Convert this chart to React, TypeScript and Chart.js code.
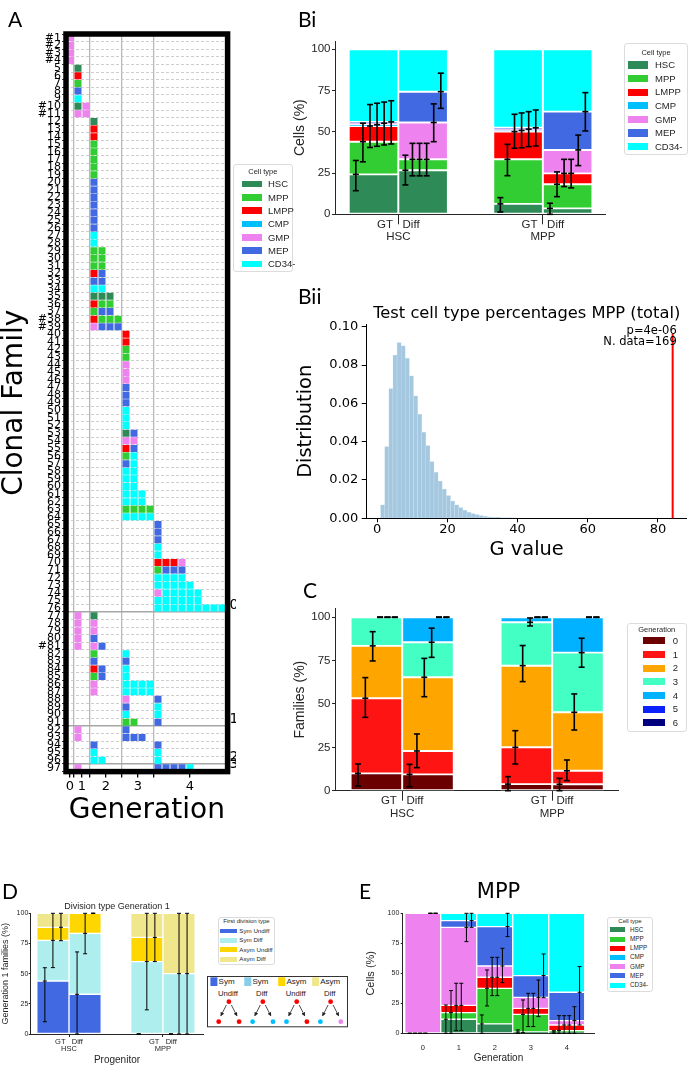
import React, { useEffect, useRef } from 'react';
import { Chart, registerables } from 'chart.js';

Chart.register(...registerables);

const SANS = "'Liberation Sans', Arial, sans-serif";
const DEJAVU = "'DejaVu Sans', sans-serif";
const INK = '#262626';

// ---------------- shared categories ----------------
const cellTypes = ['HSC', 'MPP', 'LMPP', 'CMP', 'GMP', 'MEP', 'CD34-'];
const cellCodes = ['H', 'M', 'L', 'C', 'G', 'E', 'N'];
const cellColors = ['#2e8b57', '#32cd32', '#ff0000', '#00bfff', '#ee82ee', '#4169e1', '#00ffff'];
const progenitors = ['HSC', 'MPP'];
const conditionLabel = 'GT   Diff';

// ---------------- Panel A: clonal families (gen0|gen1|gen2|gen3|gen4) ----------------
const genLabels = ['0', '1', '2', '3', '4'];
const genSlotStart = [0, 1, 3, 7, 11];
const genTickPos = [0.5, 2, 5, 9, 15.5];
const genBoundaries = [1, 3, 7, 11];
const familyCells = [
  'G||||', 'G||||', 'G||||', 'G||||', '|H|||', '|L|||', '|M|||', '|E|||', '|N|||', '|HG|||',
  '|GG|||', '||H||', '||L||', '||L||', '||M||', '||M||', '||M||', '||M||', '||M||', '||E||',
  '||E||', '||E||', '||E||', '||E||', '||E||', '||E||', '||N||', '||N||', '||MM||', '||MM||',
  '||MM||', '||LE||', '||EE||', '||NN||', '||HHH||', '||LMM||', '||MEE||', '||LMMM||', '||GEEE||', '|||L|',
  '|||L|', '|||M|', '|||M|', '|||G|', '|||G|', '|||G|', '|||E|', '|||E|', '|||E|', '|||N|',
  '|||N|', '|||N|', '|||HE|', '|||GG|', '|||LE|', '|||MN|', '|||EN|', '|||NN|', '|||NN|', '|||NN|',
  '|||NNN|', '|||NNN|', '|||MMMM|', '|||NNNN|', '||||E', '||||E', '||||E', '||||N', '||||N', '||||LLLG',
  '||||MEEE', '||||NNNN', '||||NNNNN', '||||GNNNNN', '||||NNNNNN', '||||NNNNNNNNN', '|G|H||', '|G|G||', '|G|G||', '|G|E||',
  '|G|GE||', '||M|N|', '||E|E|', '||LE|N|', '||ME|N|', '||G|NNNN|', '||G|NNNN|', '|||G|E', '|||E|N', '|||N|N',
  '|||MM|E', '|G||E|', '|G||EEE|', '||E||E', '||N||N', '||NN||N', '|G|||EEEEN',
];
const markedFamilies = [1, 2, 3, 4, 10, 11, 38, 39, 81];
const groupEnds = [76.5, 91.5, 96.5, 97.5];
const groupLabels = ['0', '1', '2', '3'];

// ---------------- Panel Bi: cell type % (HSC-GT, HSC-Diff, MPP-GT, MPP-Diff) ----------------
const biHSC = [24.2, 26.7, 6.3, 3.6];
const biMPP = [19.8, 6.6, 27.0, 14.6];
const biLMPP = [9.5, 0, 16.8, 6.6];
const biCMP = [0.8, 0, 0.7, 0];
const biGMP = [0.9, 22.3, 0.8, 14.2];
const biMEP = [0.8, 18.7, 0.8, 23.2];
const biCD34 = [44.0, 25.7, 47.6, 37.8];
const biErrLow = [
  [14.3, 31.8, 40.5, 41.2, 42.0, 42.6],
  [17.8, 23.3, 23.3, 23.3, 44.0, 64.2],
  [1.4, 23.4, 40.0, 40.3, 41.0, 41.4],
  [0, 10.7, 16.8, 16.0, 29.5, 50.5],
];
const biErrHigh = [
  [32.6, 55.2, 66.5, 67.3, 68.0, 68.8],
  [35.8, 43.0, 43.0, 43.0, 66.9, 85.5],
  [10.1, 42.4, 60.6, 61.4, 62.2, 63.2],
  [6.7, 25.7, 33.3, 33.3, 48.0, 73.7],
];

// ---------------- Panel Bii: G-value null distribution ----------------
const gBinStart = 0.96;
const gBinWidth = 1.172;
const gDensity = [
  0.0070, 0.0374, 0.0678, 0.0852, 0.0918, 0.0901, 0.0835, 0.0744, 0.0640, 0.0543,
  0.0449, 0.0380, 0.0296, 0.0240, 0.0195, 0.0153, 0.0118, 0.0090, 0.0070, 0.0056,
  0.0042, 0.0031, 0.0024, 0.0019, 0.0014, 0.0010, 0.0008, 0.0006, 0.0005, 0.0003,
  0.0002, 0.0002, 0.0001,
];
const gObserved = 84.2;
const gObservedTop = 0.0965;
const gPValue = 'p=4e-06';
const gNData = 'N. data=169';

// ---------------- Panel C: generation of families ----------------
const genNames = ['0', '1', '2', '3', '4', '5', '6'];
const genColors = ['#6a0000', '#ff1414', '#ffa500', '#44ffc4', '#00b2ff', '#0a22ff', '#00007e'];
const cGen0 = [10.0, 9.4, 3.8, 3.7];
const cGen1 = [43.3, 13.5, 21.2, 7.8];
const cGen2 = [30.2, 42.5, 47.1, 33.7];
const cGen3 = [16.5, 20.2, 25.0, 34.4];
const cGen4 = [0, 14.4, 2.9, 20.4];
const cGen5 = [0, 0, 0, 0];
const cGen6 = [0, 0, 0, 0];
const cErrLow = [
  [2.7, 42.3, 74.8, 100, 100, 100],
  [2.3, 13.3, 54.2, 76.9, 100, 100],
  [0, 15.4, 62.9, 95.0, 100, 100],
  [0, 5.8, 35.0, 71.2, 100, 100],
];
const cErrHigh = [
  [15.4, 65.2, 91.7, 100, 100, 100],
  [15.2, 32.7, 76.3, 93.7, 100, 100],
  [8.1, 34.6, 83.7, 99.6, 100, 100],
  [7.1, 17.7, 55.8, 87.9, 100, 100],
];

// ---------------- Panel D: first division type ----------------
const divTypes = ['Sym Undiff', 'Sym Diff', 'Asym Undiff', 'Asym Diff'];
const divColors = ['#4169e1', '#afeeee', '#ffd700', '#f0e68c'];
const dSymUndiff = [43.9, 32.9, 0, 0];
const dSymDiff = [33.7, 50.5, 60, 50];
const dAsymUndiff = [10.8, 16.6, 20, 0];
const dAsymDiff = [11.6, 0, 20, 50];
const dErrLow = [
  [10.2, 55.0, 77.3],
  [0, 66.5, 100],
  [0, 20, 60],
  [0, 0, 0],
];
const dErrHigh = [
  [54.9, 100, 100],
  [68.0, 100, 100],
  [0, 100, 100],
  [0, 100, 100],
];
const schemeSquares = ['#4169e1', '#87ceeb', '#ffd700', '#f0e68c'];
const schemeWords = [['Sym', 'Undiff'], ['Sym', 'Diff'], ['Asym', 'Undiff'], ['Asym', 'Diff']];
const schemeKids = [['#ff0000', '#ff0000'], ['#00bfff', '#00bfff'], ['#00bfff', '#ff0000'], ['#00bfff', '#ee82ee']];

// ---------------- Panel E: MPP cell types by generation ----------------
const eHSC = [0, 11.7, 7.8, 1.1, 1.1];
const eMPP = [0, 5.5, 29.7, 14.7, 1.1];
const eLMPP = [0, 6.1, 9.2, 5.0, 4.7];
const eCMP = [0, 0, 0, 0, 0];
const eGMP = [100, 65.0, 9.4, 9.2, 3.7];
const eMEP = [0, 5.6, 32.8, 18.1, 23.6];
const eCD34 = [0, 6.1, 11.1, 51.9, 65.8];
const eErrLow = [
  [0, 0, 0, 0, 100, 100],
  [0, 0, 2.2, 2.2, 76.4, 88.3],
  [0, 22.8, 31.4, 31.4, 42.2, 80.6],
  [0, 0.5, 5.6, 5.6, 13.9, 29.7],
  [0, 0, 0, 0, 0, 6.9],
];
const eErrHigh = [
  [0, 0, 0, 0, 100, 100],
  [23.6, 35.6, 41.7, 41.7, 100, 100],
  [15.3, 52.8, 63.3, 63.3, 70.8, 100],
  [2.8, 27.8, 33.3, 33.3, 44.4, 66.1],
  [2.2, 14.7, 14.7, 14.7, 22.2, 55.6],
];

// ---------------- helpers ----------------
const fixW = (w: number) => (s: any) => { s.width = w; };
const fixH = (h: number) => (s: any) => { s.height = h; };
const tickAt = (vals: number[]) => (s: any) => { s.ticks = vals.map((v) => ({ value: v })); };

function cumulative(series: number[][], nBars: number): number[][] {
  const out: number[][] = [];
  for (let b = 0; b < nBars; b++) {
    let acc = 0;
    out.push(series.slice(0, series.length - 1).map((s) => (acc += s[b])));
  }
  return out;
}

function errorBarData(xs: number[], width: number, mids: number[][], lo: number[][], hi: number[][]) {
  const pts: any[] = [];
  xs.forEach((xc, b) => {
    const n = mids[b].length + 1;
    mids[b].forEach((m, k) => {
      const x = xc - width / 2 + ((k + 1) * width) / n;
      pts.push({ x, y: lo[b][k] }, { x, y: m }, { x, y: hi[b][k] }, { x, y: null });
    });
  });
  return pts;
}

function stackedBars(series: number[][], colors: string[], labels: string[], xs: number[], bw: number) {
  return series.map((s, i) => ({
    type: 'bar',
    label: labels[i],
    data: s.map((v, b) => ({ x: xs[b], y: v })),
    backgroundColor: colors[i],
    borderColor: '#ffffff',
    borderWidth: bw,
    borderSkipped: false,
    categoryPercentage: 1,
    barPercentage: 1,
    xAxisID: 'x',
    yAxisID: 'y',
  }));
}

function errorDataset(pts: any[], lw: number, cap: number) {
  return {
    type: 'line',
    label: 'CI',
    data: pts,
    xAxisID: 'x',
    yAxisID: 'yE',
    borderColor: '#000',
    borderWidth: lw,
    pointStyle: 'line',
    pointRadius: cap,
    pointHoverRadius: cap,
    pointBorderColor: '#000',
    pointBorderWidth: lw,
    pointBackgroundColor: '#000',
    fill: false,
    spanGaps: false,
    clip: false,
    order: -1,
    tension: 0,
  };
}

function stackChart(o: any) {
  return {
    type: 'bar',
    data: { datasets: o.datasets },
    options: {
      responsive: false,
      animation: false,
      devicePixelRatio: 1,
      events: [],
      layout: { padding: { left: 0, top: o.padTop, right: o.padRight, bottom: 0 }, autoPadding: false },
      plugins: {
        legend: { display: false },
        tooltip: { enabled: false },
        title: o.title
          ? {
              display: true,
              text: o.title.text,
              fullSize: false,
              color: o.title.color || INK,
              font: { family: o.title.family, size: o.title.size, lineHeight: 1.2, weight: 'normal' },
              padding: { top: o.title.top, bottom: o.title.bottom },
            }
          : { display: false },
      },
      scales: {
        x: {
          type: 'linear',
          min: o.xMin,
          max: o.xMax,
          offset: false,
          stacked: true,
          afterBuildTicks: tickAt(o.xTicks),
          afterFit: fixH(o.xHeight),
          ticks: {
            autoSkip: false,
            minRotation: 0,
            maxRotation: 0,
            color: INK,
            padding: o.xPad,
            font: { family: SANS, size: o.xFont, lineHeight: o.xLineHeight },
            callback: (_v: any, i: number) => o.xLabels[i],
          },
          grid: {
            display: true,
            offset: false,
            drawOnChartArea: false,
            drawTicks: o.xTickLen > 0,
            tickLength: o.xTickLen,
            tickColor: INK,
            tickWidth: 1,
          },
          border: { display: true, color: INK, width: 1 },
          title: o.xTitle
            ? {
                display: true,
                text: o.xTitle,
                color: INK,
                font: { family: SANS, size: o.xTitleSize, lineHeight: 1 },
                padding: { top: 0, bottom: o.xTitlePad },
              }
            : { display: false },
        },
        y: {
          type: 'linear',
          min: 0,
          max: o.yMax,
          stacked: true,
          afterBuildTicks: tickAt([0, 25, 50, 75, 100]),
          afterFit: fixW(o.yWidth),
          ticks: { color: INK, padding: o.yPad, font: { family: SANS, size: o.yFont } },
          grid: { display: true, drawOnChartArea: false, tickLength: o.yTickLen, tickColor: INK },
          border: { display: true, color: INK, width: 1 },
          title: {
            display: true,
            text: o.yTitle,
            color: INK,
            font: { family: SANS, size: o.yTitleSize, lineHeight: 1 },
            padding: { top: o.yTitlePad, bottom: 0 },
          },
        },
        yE: { type: 'linear', min: 0, max: o.yMax, display: false, stacked: false },
      },
    },
  };
}

const framePlugin = {
  id: 'frame',
  afterDraw(chart: any, _a: any, opts: any) {
    const { ctx, chartArea } = chart;
    ctx.save();
    ctx.strokeStyle = opts.color || '#000';
    ctx.lineWidth = opts.width || 1;
    ctx.strokeRect(chartArea.left, chartArea.top, chartArea.right - chartArea.left, chartArea.bottom - chartArea.top);
    ctx.restore();
  },
};

const notePlugin = {
  id: 'note',
  afterDatasetsDraw(chart: any, _a: any, opts: any) {
    const { ctx, chartArea } = chart;
    ctx.save();
    ctx.font = opts.font;
    ctx.fillStyle = '#000';
    ctx.textAlign = 'right';
    ctx.textBaseline = 'middle';
    (opts.lines || []).forEach((t: string, i: number) => {
      ctx.fillText(t, chartArea.right - opts.dx, chartArea.top + opts.dy + i * opts.gap);
    });
    ctx.restore();
  },
};

// ---------------- chart configs ----------------
function makePanelA() {
  const datasets = cellCodes.map((code, ci) => {
    const pts: { x: number; y: number }[] = [];
    familyCells.forEach((fam, fi) => {
      fam.split('|').forEach((cells, g) => {
        cells.split('').forEach((c, j) => {
          if (c === code) pts.push({ x: genSlotStart[g] + j + 0.5, y: fi + 1 });
        });
      });
    });
    return {
      label: cellTypes[ci],
      data: pts,
      backgroundColor: cellColors[ci],
      borderColor: cellColors[ci],
      borderWidth: 0,
      pointStyle: 'rect',
      pointRadius: 4.95,
      pointHoverRadius: 4.95,
    };
  });
  const familyIds = familyCells.map((_, i) => i + 1);
  const xTicks = [...genTickPos, ...genBoundaries].sort((a, b) => a - b);
  return {
    type: 'scatter',
    data: { datasets },
    plugins: [framePlugin],
    options: {
      responsive: false,
      animation: false,
      devicePixelRatio: 1,
      events: [],
      layout: { padding: { left: 0, top: 34, right: 0, bottom: 0 }, autoPadding: false },
      plugins: { legend: { display: false }, tooltip: { enabled: false }, frame: { width: 5.5, color: '#000' } },
      scales: {
        x: {
          type: 'linear',
          position: 'bottom',
          min: 0,
          max: 20.2,
          afterBuildTicks: tickAt(xTicks),
          afterFit: fixH(78.4),
          ticks: {
            autoSkip: false,
            minRotation: 0,
            maxRotation: 0,
            color: '#000',
            padding: 1,
            font: { family: DEJAVU, size: 13 },
            callback: (v: number) => {
              const i = genTickPos.indexOf(v);
              return i >= 0 ? genLabels[i] : '';
            },
          },
          grid: {
            color: (ctx: any) => (ctx.tick && genBoundaries.includes(ctx.tick.value) ? '#b8b8b8' : 'rgba(0,0,0,0)'),
            lineWidth: 1.3,
            tickColor: '#000',
            tickLength: 6,
          },
          border: { display: false },
          title: {
            display: true,
            text: 'Generation',
            color: '#000',
            font: { family: DEJAVU, size: 28, lineHeight: 1 },
            padding: { top: 0, bottom: 25 },
          },
        },
        y: {
          type: 'linear',
          position: 'left',
          min: 0.5,
          max: 97.5,
          reverse: true,
          afterBuildTicks: tickAt(familyIds),
          afterFit: fixW(66),
          ticks: {
            autoSkip: false,
            color: '#000',
            padding: 1,
            font: { family: DEJAVU, size: 11 },
            callback: (v: number) => (markedFamilies.includes(v) ? '#' : '') + v,
          },
          grid: { offset: true, color: '#c2c2c2', lineWidth: 0.8, tickColor: '#000', tickLength: 4 },
          border: { display: false, dash: [3, 2] },
          title: {
            display: true,
            text: 'Clonal Family',
            color: '#000',
            font: { family: DEJAVU, size: 28, lineHeight: 1 },
            padding: { top: 1, bottom: 0 },
          },
        },
        yR: {
          type: 'linear',
          position: 'right',
          min: 0.5,
          max: 97.5,
          reverse: true,
          afterBuildTicks: tickAt(groupEnds),
          afterFit: fixW(8.4),
          ticks: {
            autoSkip: false,
            color: '#000',
            padding: 2,
            labelOffset: -7,
            font: { family: DEJAVU, size: 14 },
            callback: (_v: any, i: number) => groupLabels[i],
          },
          grid: { color: '#a6a6a6', lineWidth: 1.5, drawTicks: false },
          border: { display: false },
        },
      },
    },
  };
}

const pairX = (w: number) => [0, 1].flatMap((g) => [g - w / 2, g + w / 2]);
const twoLineLabels = progenitors.map((p) => [conditionLabel, p]);

function makePanelBi() {
  const w = 0.343;
  const xs = pairX(w);
  const series = [biHSC, biMPP, biLMPP, biCMP, biGMP, biMEP, biCD34];
  const mids = cumulative(series, 4);
  return stackChart({
    datasets: [
      errorDataset(errorBarData(xs, w, mids, biErrLow, biErrHigh), 1.6, 3),
      ...stackedBars(series, cellColors, cellTypes, xs, 1.3),
    ],
    padTop: 11, padRight: 84,
    xMin: -0.438, xMax: 1.43, xTicks: [0, 1], xLabels: twoLineLabels, xHeight: 30.7,
    xFont: 11.5, xLineHeight: 1.1, xTickLen: 10, xPad: -6,
    yMax: 105, yWidth: 45, yFont: 11.5, yTickLen: 3, yPad: 1.5,
    yTitle: 'Cells (%)', yTitleSize: 14, yTitlePad: 3,
  });
}

function makePanelC() {
  const w = 0.344;
  const xs = pairX(w);
  const series = [cGen0, cGen1, cGen2, cGen3, cGen4, cGen5, cGen6];
  const mids = cumulative(series, 4);
  return stackChart({
    datasets: [
      errorDataset(errorBarData(xs, w, mids, cErrLow, cErrHigh), 1.6, 3),
      ...stackedBars(series, genColors, genNames, xs, 1.3),
    ],
    padTop: 13.6, padRight: 71,
    xMin: -0.448, xMax: 1.439, xTicks: [0, 1], xLabels: twoLineLabels, xHeight: 29.3,
    xFont: 11.5, xLineHeight: 1.1, xTickLen: 10, xPad: -6,
    yMax: 105, yWidth: 45, yFont: 11.5, yTickLen: 3, yPad: 1.5,
    yTitle: 'Families (%)', yTitleSize: 14, yTitlePad: 3,
  });
}

function makePanelD() {
  const w = 0.343;
  const xs = pairX(w);
  const series = [dSymUndiff, dSymDiff, dAsymUndiff, dAsymDiff];
  const mids = cumulative(series, 4);
  return stackChart({
    datasets: [
      errorDataset(errorBarData(xs, w, mids, dErrLow, dErrHigh), 1, 2),
      ...stackedBars(series, divColors, divTypes, xs, 1),
    ],
    padTop: 0, padRight: 6.7,
    title: { text: 'Division type Generation 1', family: SANS, size: 9, top: 6.3, bottom: 1.2 },
    xMin: -0.408, xMax: 1.43, xTicks: [0, 1], xLabels: twoLineLabels, xHeight: 42,
    xFont: 7.5, xLineHeight: 1.05, xTickLen: 3, xPad: 0.6,
    xTitle: 'Progenitor', xTitleSize: 10, xTitlePad: 10.3,
    yMax: 100, yWidth: 30.7, yFont: 7, yTickLen: 2, yPad: 0.4,
    yTitle: 'Generation 1 families (%)', yTitleSize: 9, yTitlePad: 1.5,
  });
}

function makePanelE() {
  const xs = [0, 1, 2, 3, 4];
  const series = [eHSC, eMPP, eLMPP, eCMP, eGMP, eMEP, eCD34];
  const mids = cumulative(series, 5);
  return stackChart({
    datasets: [
      errorDataset(errorBarData(xs, 1, mids, eErrLow, eErrHigh), 1, 2),
      ...stackedBars(series, cellColors, cellTypes, xs, 1),
    ],
    padTop: 0, padRight: 5.7,
    title: { text: 'MPP', family: DEJAVU, size: 21, top: 5.4, bottom: 7.7, color: '#000' },
    xMin: -0.556, xMax: 4.766, xTicks: xs, xLabels: genLabels, xHeight: 36.7,
    xFont: 7.5, xLineHeight: 1.1, xTickLen: 0, xPad: 10.9,
    xTitle: 'Generation', xTitleSize: 10, xTitlePad: 6.7,
    yMax: 100, yWidth: 42.7, yFont: 7, yTickLen: 2, yPad: 1.4,
    yTitle: 'Cells (%)', yTitleSize: 11, yTitlePad: 5.3,
  });
}

function makePanelBii() {
  const pts = gDensity.map((d, i) => ({ x: gBinStart + gBinWidth * (i + 0.5), y: d }));
  return {
    type: 'bar',
    data: {
      datasets: [
        {
          type: 'line',
          label: 'observed',
          data: [{ x: gObserved, y: 0 }, { x: gObserved, y: gObservedTop }],
          borderColor: '#ff0000',
          borderWidth: 2,
          pointRadius: 0,
          clip: false,
          order: -1,
        },
        {
          type: 'bar',
          label: 'G value distribution',
          data: pts,
          backgroundColor: '#a5c8e1',
          borderColor: '#cfe1ef',
          borderWidth: 0.5,
          borderSkipped: false,
          categoryPercentage: 1,
          barPercentage: 1,
        },
      ],
    },
    plugins: [notePlugin],
    options: {
      responsive: false,
      animation: false,
      devicePixelRatio: 1,
      events: [],
      layout: { padding: { left: 0, top: 0, right: 2.3, bottom: 0 }, autoPadding: false },
      plugins: {
        legend: { display: false },
        tooltip: { enabled: false },
        title: {
          display: true,
          text: 'Test cell type percentages MPP (total)',
          fullSize: false,
          color: '#000',
          font: { family: DEJAVU, size: 16.3, lineHeight: 1.2, weight: 'normal' },
          padding: { top: 23.5, bottom: 1.24 },
        },
        note: { lines: [gPValue, gNData], font: `11.5px ${DEJAVU}`, dx: 10, dy: 6.7, gap: 11.3 },
      },
      scales: {
        x: {
          type: 'linear',
          min: -3.0,
          max: 88.2,
          offset: false,
          afterBuildTicks: tickAt([0, 20, 40, 60, 80]),
          afterFit: fixH(46.7),
          ticks: { color: '#000', padding: 0.5, maxRotation: 0, font: { family: DEJAVU, size: 13, lineHeight: 1 } },
          grid: { offset: false, drawOnChartArea: false, tickLength: 4, tickColor: '#000' },
          border: { display: true, color: '#000', width: 1 },
          title: {
            display: true,
            text: 'G value',
            color: '#000',
            font: { family: DEJAVU, size: 19.4, lineHeight: 1 },
            padding: { top: 0, bottom: 5.3 },
          },
        },
        y: {
          type: 'linear',
          min: 0,
          max: 0.1013,
          afterBuildTicks: tickAt([0, 0.02, 0.04, 0.06, 0.08, 0.1]),
          afterFit: fixW(76.7),
          ticks: { color: '#000', padding: 3.4, font: { family: DEJAVU, size: 13 }, callback: (v: any) => Number(v).toFixed(2) },
          grid: { drawOnChartArea: false, tickLength: 5, tickColor: '#000' },
          border: { display: true, color: '#000', width: 1 },
          title: {
            display: true,
            text: 'Distribution',
            color: '#000',
            font: { family: DEJAVU, size: 19.4, lineHeight: 1 },
            padding: { top: 6.5, bottom: 0 },
          },
        },
      },
    },
  };
}

// ---------------- components ----------------
function ChartCanvas({ left, top, width, height, make }: any) {
  const ref = useRef<HTMLCanvasElement | null>(null);
  useEffect(() => {
    if (!ref.current) return;
    const chart = new Chart(ref.current, make());
    return () => chart.destroy();
  }, []);
  return (
    <canvas ref={ref} width={width} height={height} style={{ position: 'absolute', left, top, width, height }} />
  );
}

function HtmlLegend({ box, title, titleSize, titleY, labels, colors, swatchX, swatchW, swatchH, textX, rowY0, rowStep, fontSize }: any) {
  const [bl, bt, bw, bh] = box;
  const ox = bl + 1;
  const oy = bt + 1;
  return (
    <div
      style={{
        position: 'absolute', left: bl, top: bt, width: bw, height: bh, boxSizing: 'border-box',
        border: '1px solid #dcdcdc', borderRadius: 3, background: 'rgba(255,255,255,0.9)',
        fontFamily: SANS, color: INK,
      }}
    >
      <div style={{ position: 'absolute', left: -1, width: bw, top: titleY - oy - titleSize * 0.5, fontSize: titleSize, lineHeight: 1, textAlign: 'center', whiteSpace: 'nowrap' }}>
        {title}
      </div>
      {labels.map((l: string, i: number) => {
        const cy = rowY0 + i * rowStep - oy;
        return (
          <React.Fragment key={l}>
            <div style={{ position: 'absolute', left: swatchX - ox, top: cy - swatchH / 2, width: swatchW, height: swatchH, background: colors[i] }} />
            <div style={{ position: 'absolute', left: textX - ox, top: cy - fontSize * 0.5, fontSize, lineHeight: 1, whiteSpace: 'nowrap' }}>{l}</div>
          </React.Fragment>
        );
      })}
    </div>
  );
}

function DivisionScheme() {
  const x0 = 207.3, y0 = 976, w = 141, h = 51.3;
  return (
    <svg width={w} height={h} viewBox={`${x0} ${y0} ${w} ${h}`} style={{ position: 'absolute', left: x0, top: y0, overflow: 'visible' }}>
      <defs>
        <marker id="ah" markerWidth="4" markerHeight="4" refX="3.4" refY="2" orient="auto" markerUnits="userSpaceOnUse">
          <path d="M0,0 L4,2 L0,4 z" fill="#222" />
        </marker>
      </defs>
      <rect x={x0 + 0.5} y={y0 + 0.5} width={w - 1} height={h - 1} fill="#fff" stroke="#333" strokeWidth={1} />
      {schemeSquares.map((c, i) => {
        const sq = 210.7 + i * 33.9;
        const px = sq + 18.5;
        return (
          <g key={i}>
            <rect x={sq} y={977.3} width={7} height={8.7} fill={c} />
            <text x={sq + 8.2} y={981.9} fontSize={8} fontFamily={SANS} fill="#222" dominantBaseline="central">{schemeWords[i][0]}</text>
            <text x={px - 1} y={993.3} fontSize={7.7} fontFamily={SANS} fill="#222" textAnchor="middle" dominantBaseline="central">{schemeWords[i][1]}</text>
            <circle cx={px} cy={1001.7} r={2.4} fill="#ff0000" />
            <line x1={px - 2.5} y1={1005} x2={px - 8} y2={1015.8} stroke="#222" strokeWidth={0.8} markerEnd="url(#ah)" />
            <line x1={px + 2.5} y1={1005} x2={px + 8} y2={1015.8} stroke="#222" strokeWidth={0.8} markerEnd="url(#ah)" />
            <circle cx={px - 10.2} cy={1021.7} r={2.4} fill={schemeKids[i][0]} />
            <circle cx={px + 10.2} cy={1021.7} r={2.4} fill={schemeKids[i][1]} />
          </g>
        );
      })}
    </svg>
  );
}

const panelLetters = [
  { text: 'A', left: 8, top: 8 },
  { text: 'Bi', left: 298, top: 8 },
  { text: 'Bii', left: 298, top: 284.5 },
  { text: 'C', left: 303, top: 578.5 },
  { text: 'D', left: 2, top: 879.5 },
  { text: 'E', left: 359, top: 879.5 },
];

export default function App() {
  return (
    <div style={{ position: 'absolute', left: 0, top: 0, width: 689, height: 1076, background: '#fff', overflow: 'hidden' }}>
      <ChartCanvas left={0} top={0} width={236} height={850} make={makePanelA} />
      <ChartCanvas left={290} top={30} width={399} height={215} make={makePanelBi} />
      <ChartCanvas left={290} top={280} width={399} height={285} make={makePanelBii} />
      <ChartCanvas left={290} top={595} width={399} height={225} make={makePanelC} />
      <ChartCanvas left={0} top={895} width={210} height={181} make={makePanelD} />
      <ChartCanvas left={360} top={875} width={240} height={195} make={makePanelE} />

      <HtmlLegend box={[232.7, 164, 60.3, 108]} title="Cell type" titleSize={7.5} titleY={171.7}
        labels={cellTypes} colors={cellColors} swatchX={241.7} swatchW={20} swatchH={6.5} textX={268}
        rowY0={184} rowStep={13.33} fontSize={9.5} />
      <HtmlLegend box={[624, 42.7, 64, 112.3]} title="Cell type" titleSize={7.5} titleY={52.3}
        labels={cellTypes} colors={cellColors} swatchX={627.7} swatchW={20.6} swatchH={7.3} textX={655}
        rowY0={65} rowStep={13.62} fontSize={9.5} />
      <HtmlLegend box={[626.7, 623.3, 60, 108.4]} title="Generation" titleSize={7.5} titleY={629.3}
        labels={genNames} colors={genColors} swatchX={643.3} swatchW={22} swatchH={7} textX={672.7}
        rowY0={640.7} rowStep={13.67} fontSize={9.5} />
      <HtmlLegend box={[218, 916.7, 57, 48.3]} title="First division type" titleSize={6} titleY={921.3}
        labels={divTypes} colors={divColors} swatchX={220} swatchW={16.7} swatchH={4.7} textX={239.3}
        rowY0={931} rowStep={9.43} fontSize={6.2} />
      <HtmlLegend box={[606.7, 916.7, 46.6, 75]} title="Cell type" titleSize={6} titleY={921}
        labels={cellTypes} colors={cellColors} swatchX={610} swatchW={15} swatchH={5} textX={630}
        rowY0={930} rowStep={9.17} fontSize={6.3} />

      <DivisionScheme />

      {panelLetters.map((p) => (
        <div key={p.text} style={{ position: 'absolute', left: p.left, top: p.top, fontFamily: 'Lato, sans-serif', fontSize: 21, lineHeight: 1, color: '#000', whiteSpace: 'nowrap' }}>
          {p.text}
        </div>
      ))}
    </div>
  );
}
